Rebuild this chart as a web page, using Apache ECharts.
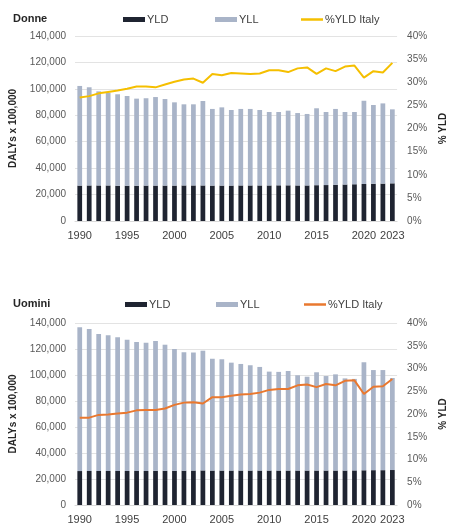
<!DOCTYPE html>
<html><head><meta charset="utf-8">
<script src="https://cdn.jsdelivr.net/npm/echarts@6/dist/echarts.min.js"></script>
<style>html,body{margin:0;padding:0;background:#fff}#c{width:456px;height:526px}</style>
</head><body><div id="c"></div>
<script>
const years = ['1990','1991','1992','1993','1994','1995','1996','1997','1998','1999','2000','2001','2002','2003','2004','2005','2006','2007','2008','2009','2010','2011','2012','2013','2014','2015','2016','2017','2018','2019','2020','2021','2022','2023'];
const tickYears = ['1990','1995','2000','2005','2010','2015','2020','2023'];

const donneYLD = [26800,26900,26900,26900,26700,26700,26700,26800,26800,26800,26800,26900,26900,26900,26800,26800,26800,26900,26900,26900,26900,27000,27000,26900,26900,27100,27200,27400,27600,27800,28000,28200,28300,28500];
const donneYLL = [75400,74300,71200,70100,69200,67900,65900,66100,67000,65500,63000,61400,61400,63900,58000,59200,57200,57900,57900,57100,55600,55500,56500,54800,54100,58200,55300,57400,54900,54700,63000,59600,60700,56000];
const donnePct = [26.7,27.0,27.6,27.9,28.2,28.6,29.1,29.1,28.9,29.5,30.1,30.6,30.8,29.9,31.8,31.5,32.0,31.9,31.8,31.9,32.6,32.6,32.2,33.0,33.2,31.8,33.0,32.4,33.4,33.6,31.0,32.4,32.1,34.2];

const uominiYLD = [26100,26200,26200,26200,26200,26200,26200,26200,26300,26300,26300,26400,26500,26600,26500,26500,26500,26500,26500,26500,26500,26500,26500,26500,26500,26500,26500,26500,26500,26600,26700,26800,26800,26900];
const uominiYLL = [110600,109200,105300,104300,102800,101000,99200,98700,99900,97000,93700,91100,90800,92100,86000,85600,83000,82000,81000,79700,76100,75900,76600,73300,72200,75600,72700,74000,70900,70400,83100,77000,77000,70800];
const uominiPct = [19.2,19.2,19.8,19.9,20.1,20.3,20.8,20.9,20.9,21.2,22.0,22.5,22.6,22.3,23.7,23.7,24.0,24.3,24.4,24.7,25.3,25.5,25.5,26.3,26.5,25.9,26.6,26.3,27.3,27.4,24.4,26.0,26.1,27.7];

const leftTicks = {min:0, max:140000, interval:20000};
const rightTicks = {min:0, max:40, interval:5};

const FONT = 'Liberation Sans, Arial, sans-serif';
const C_YLD = '#1f2431', C_YLL = '#a9b4c8', C_F = '#f5bf00', C_M = '#e9782f';
const labelNames = {dYLD:'YLD', dYLL:'YLL', dPct:'%YLD Italy', mYLD:'YLD', mYLL:'YLL', mPct:'%YLD Italy'};

function leg(name, left, top, isLine) {
  return {
    data:[name], left:left, top:top, icon:'rect',
    itemWidth:22, itemHeight: isLine ? 2.5 : 5, itemGap:0,
    selectedMode:false,
    formatter: n => labelNames[n],
    textStyle:{fontFamily:FONT, fontSize:11, color:'#404040', padding:[0,0,0,-3]}
  };
}
const grids = [
  {left:73, right:42, top:36, height:185},
  {left:73, right:42, top:323, height:182}
];
function xAx(gi){
  return {
    type:'category', data:years, gridIndex:gi,
    axisLine:{show:true, lineStyle:{color:'#d9d9d9'}}, axisTick:{show:false},
    axisLabel:{interval:(i,v)=>tickYears.includes(v), fontFamily:FONT, fontSize:11, color:'#404040', margin:9, hideOverlap:false}
  };
}
function yL(gi){
  return Object.assign({
    type:'value', gridIndex:gi, position:'left',
    name:'DALYs x 100,000', nameLocation:'middle', nameGap:57, nameRotate:90,
    nameTextStyle:{fontFamily:FONT, fontSize:10, fontWeight:'bold', color:'#262626'},
    axisLine:{show:false}, axisTick:{show:false},
    splitLine:{show:true, lineStyle:{color:'#e3e3e3'}},
    axisLabel:{fontFamily:FONT, fontSize:10, color:'#595959', margin:9,
      formatter:v=>v.toLocaleString('en-US')}
  }, leftTicks);
}
function yR(gi){
  return Object.assign({
    type:'value', gridIndex:gi, position:'right',
    name:'% YLD', nameLocation:'middle', nameGap:36, nameRotate:90,
    nameTextStyle:{fontFamily:FONT, fontSize:10, fontWeight:'bold', color:'#262626'},
    axisLine:{show:false}, axisTick:{show:false}, splitLine:{show:false},
    axisLabel:{fontFamily:FONT, fontSize:10, color:'#595959', margin:10, formatter:v=>v+'%'}
  }, rightTicks);
}
function bars(prefix, gi, yld, yll){
  return [
    {name:prefix+'YLD', type:'bar', stack:prefix, xAxisIndex:gi, yAxisIndex:gi*2, data:yld, barWidth:'50%', itemStyle:{color:C_YLD}},
    {name:prefix+'YLL', type:'bar', stack:prefix, xAxisIndex:gi, yAxisIndex:gi*2, data:yll, barWidth:'50%', itemStyle:{color:C_YLL}}
  ];
}
const chart = echarts.init(document.getElementById('c'), null, {renderer:'canvas'});
chart.setOption({
  animation:false,
  backgroundColor:'#fff',
  title:[
    {text:'Donne', left:8, top:8, textStyle:{fontFamily:FONT, fontSize:11, fontWeight:'bold', color:'#262626'}},
    {text:'Uomini', left:8, top:293, textStyle:{fontFamily:FONT, fontSize:11, fontWeight:'bold', color:'#262626'}}
  ],
  legend:[
    leg('dYLD',118,9,false), leg('dYLL',210,9,false), leg('dPct',296,9,true),
    leg('mYLD',120,294,false), leg('mYLL',211,294,false), leg('mPct',299,294,true)
  ],
  grid:grids,
  xAxis:[xAx(0), xAx(1)],
  yAxis:[yL(0), yR(0), yL(1), yR(1)],
  series:[
    ...bars('d',0,donneYLD,donneYLL),
    {name:'dPct', type:'line', xAxisIndex:0, yAxisIndex:1, data:donnePct, showSymbol:false, symbol:'none', lineStyle:{color:C_F, width:2}, itemStyle:{color:C_F}, z:5},
    ...bars('m',1,uominiYLD,uominiYLL),
    {name:'mPct', type:'line', xAxisIndex:1, yAxisIndex:3, data:uominiPct, showSymbol:false, symbol:'none', lineStyle:{color:C_M, width:2}, itemStyle:{color:C_M}, z:5}
  ]
});
</script>
</body></html>
